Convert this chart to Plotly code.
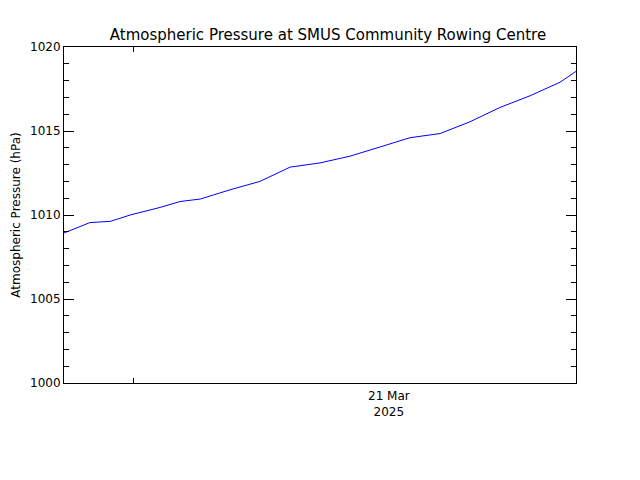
import plotly.graph_objects as go

# timestamps and pressure readings (hPa)
times = ["2025-03-20 20:45", "2025-03-20 21:58", "2025-03-20 22:55", "2025-03-20 23:51",
         "2025-03-21 01:15", "2025-03-21 02:11", "2025-03-21 03:08", "2025-03-21 04:32",
         "2025-03-21 05:56", "2025-03-21 07:21", "2025-03-21 08:45", "2025-03-21 10:09",
         "2025-03-21 11:34", "2025-03-21 12:58", "2025-03-21 14:23", "2025-03-21 15:47",
         "2025-03-21 17:11", "2025-03-21 18:36", "2025-03-21 20:00", "2025-03-21 20:45"]
pressure = [1008.93, 1009.55, 1009.62, 1010.0, 1010.45, 1010.8, 1010.95, 1011.5,
            1012.0, 1012.85, 1013.1, 1013.5, 1014.05, 1014.6, 1014.85, 1015.55,
            1016.4, 1017.1, 1017.9, 1018.55]

fig = go.Figure(go.Scatter(x=times, y=pressure, mode="lines",
                           line=dict(color="blue", width=1)))

fig.add_annotation(x="2025-03-21 12:00", y=0, yref="paper", yanchor="top", yshift=-4,
                   text="21 Mar<br>2025", showarrow=False, font=dict(size=12))

axis_common = dict(showgrid=False, zeroline=False, showline=True, linecolor="black",
                   linewidth=1, mirror="allticks", ticks="inside", tickcolor="black")
fig.update_xaxes(range=["2025-03-20 20:45", "2025-03-21 20:45"],
                 tickvals=["2025-03-21 00:00"], showticklabels=False, ticklen=5,
                 automargin=False, **axis_common)
fig.update_yaxes(range=[1000, 1020], dtick=5, ticklen=10, tickformat="d",
                 minor=dict(dtick=1, ticks="inside", ticklen=5, tickcolor="black"),
                 title=dict(text="Atmospheric Pressure (hPa)", standoff=6, font=dict(size=12)),
                 automargin=False, **axis_common)
fig.update_layout(
    width=640, height=480,
    margin=dict(l=56, r=72, t=39, b=105),
    paper_bgcolor="white", plot_bgcolor="white",
    font=dict(family="DejaVu Sans", size=12, color="black"),
    title=dict(text="Atmospheric Pressure at SMUS Community Rowing Centre",
               x=0.5, y=0.955, xanchor="center", font=dict(size=15)),
    showlegend=False,
)
fig.write_html("out.html")
